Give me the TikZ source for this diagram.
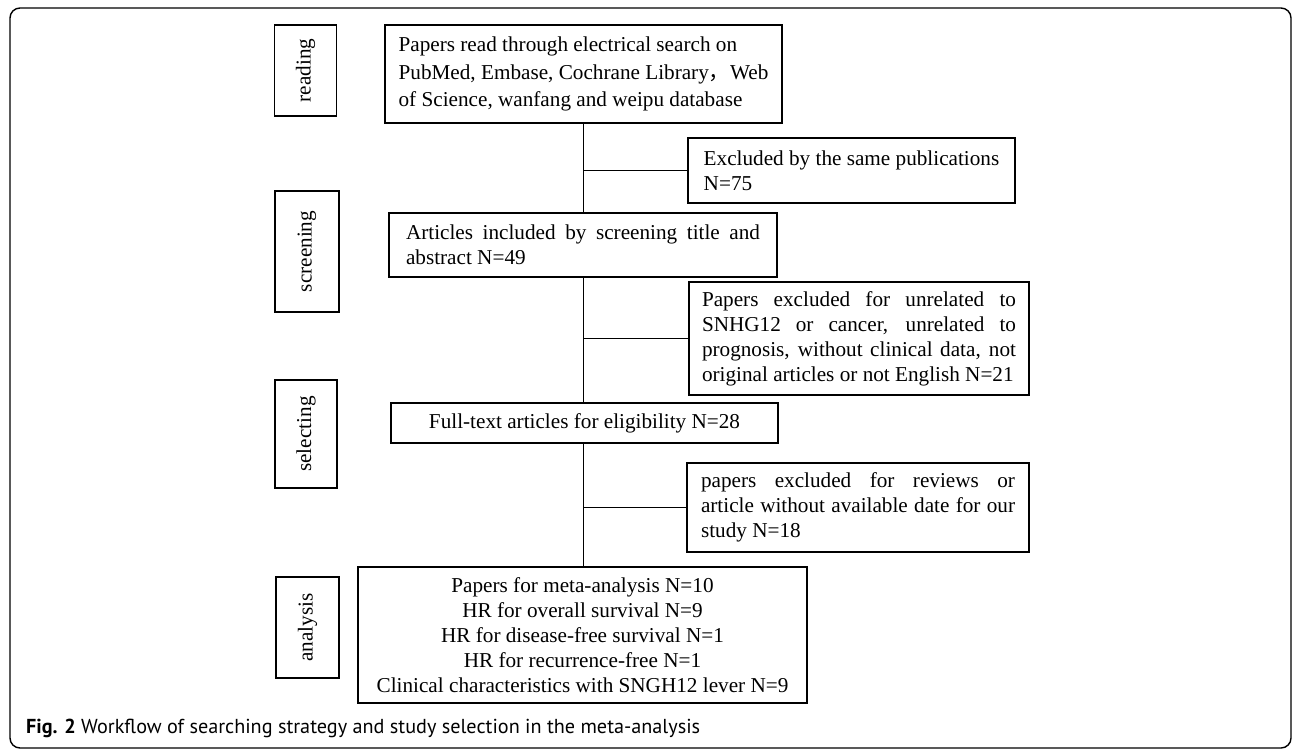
\documentclass[tikz,border=0pt]{standalone}
\usepackage{fontspec}
\setmainfont{Liberation Serif}
\newfontfamily\capfont{PT Sans}
\newfontfamily\cjk{Noto Sans CJK SC}
\usetikzlibrary{calc,positioning}

\begin{document}
\begin{tikzpicture}[
  x = 0.5pt, y = -0.5pt,
  boxfont/.style = {font=\fontsize{10.6}{12.5}\selectfont},
  phase/.style   = {rectangle, black, draw, line width=0.9pt, rotate=90, inner sep=0pt, text centered, boxfont},
  mainbox/.style = {rectangle, black, draw, line width=0.9pt, inner ysep=0pt, boxfont},
  exclbox/.style = {rectangle, black, draw, line width=0.9pt, inner ysep=0pt, align=justify, boxfont},
  link/.style    = {black, line width=0.9pt},
  ]
  \useasboundingbox (0,0) rectangle (1293,749);
  \draw[line width=0.7pt, rounded corners=5pt] (10,8) rectangle (1291,748);
  % stages
  \node[phase, minimum width=45.5pt, minimum height=31pt] (read)   at (305.5,70.5) {reading};
  \node[phase, minimum width=60.5pt, minimum height=32pt] (screen) at (307,251.5)  {screening};
  \node[phase, minimum width=54pt  , minimum height=31pt] (select) at (306,434)    {selecting};
  \node[phase, minimum width=50.5pt, minimum height=31.5pt] (anal) at (307.5,627.5) {analysis};
  % main flow
  \node[mainbox, align=left, minimum width=198.5pt, minimum height=49pt, font=\fontsize{10.6}{13.6}\selectfont] (search) at (583.5,74)
    {Papers read through electrical search on\\ PubMed, Embase, Cochrane Library{\cjk ，}Web\\ of Science, wanfang and weipu database};
  \node[exclbox, inner xsep=8.5pt, text width=177pt, minimum height=32pt] (articles) at (583,245)
    {Articles included by screening title and\linebreak abstract N=49};
  \node[mainbox, align=center, minimum width=193.5pt, minimum height=20pt] (fulltext) at (584.5,423)
    {Full-text articles for eligibility N=28};
  \node[mainbox, align=center, minimum width=224.5pt, minimum height=68pt] (result) at (582.5,635)
    {Papers for meta-analysis N=10\\ HR for overall survival N=9\\ HR for disease-free survival N=1\\
     HR for recurrence-free N=1\\ Clinical characteristics with SNGH12 lever N=9};
  % exclusions
  \node[mainbox, align=left, minimum width=163.5pt, minimum height=32.5pt] (excl1) at (851.5,170.5)
    {Excluded by the same publications\\ N=75};
  \node[exclbox, inner xsep=6.5pt, text width=157pt, minimum height=56.5pt] (excl2) at (859,338.5)
    {Papers excluded for unrelated to\linebreak SNHG12 or cancer, unrelated to\linebreak prognosis, without clinical data, not\linebreak original articles or not English N=21};
  \node[exclbox, inner xsep=7pt, text width=157pt, minimum height=44.5pt] (excl3) at (858,507.5)
    {papers excluded for reviews or\linebreak article without available date for our\linebreak study N=18};
  % connectors
  \draw[link] (search.south) -- (search.south |- articles.north);
  \draw[link] (articles.south -| search.south) -- (search.south |- fulltext.north);
  \draw[link] (fulltext.south -| search.south) -- (search.south |- result.north);
  \draw[link] (excl1.west) -- (excl1.west -| search.south);
  \draw[link] (excl2.west) -- (excl2.west -| search.south);
  \draw[link] (excl3.west) -- (excl3.west -| search.south);
  % caption
  \node[anchor=base west, font=\capfont\fontsize{10.1}{12}\selectfont] (caption) at (19,733)
    {\textbf{Fig. 2} Workflow of searching strategy and study selection in the meta-analysis};
\end{tikzpicture}
\end{document}
